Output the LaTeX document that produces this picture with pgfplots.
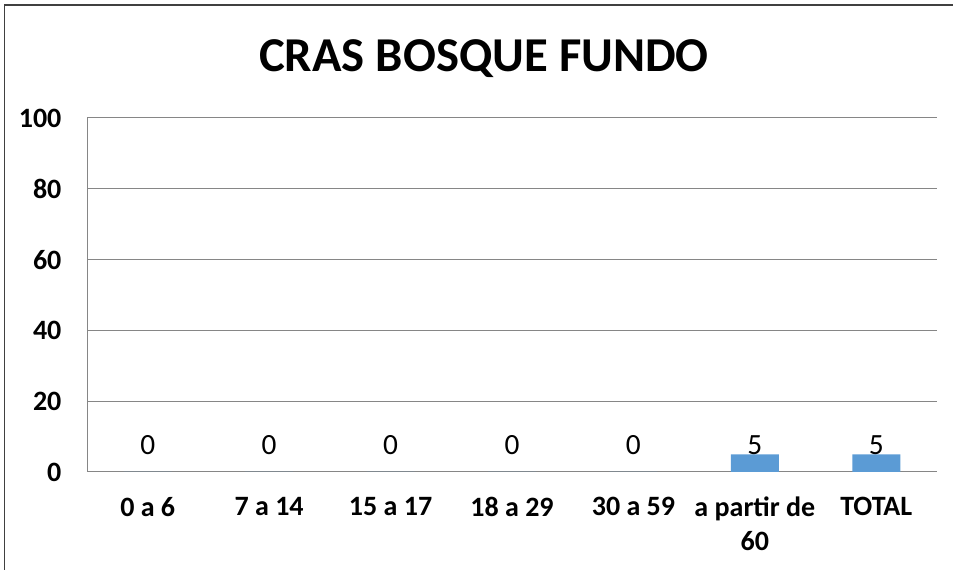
\documentclass[border=0pt]{standalone}
\usepackage{fontspec}
\setmainfont{Carlito}
\usepackage{pgfplots}
\pgfplotsset{compat=1.18}
\definecolor{barblue}{RGB}{91,155,213}
\definecolor{gridgray}{RGB}{134,134,134}
\begin{document}
\begin{tikzpicture}[x=0.75pt,y=0.75pt]
\useasboundingbox (0,0) rectangle (953,570);
\draw[black!75, line width=1pt] (4.5,-2) -- (4.5,565) -- (953,565);
\node[font=\bfseries\fontsize{36.5}{42}\selectfont, anchor=base] at (484,498) {CRAS BOSQUE FUNDO};
\begin{axis}[
  at={(65.25pt,73.5pt)}, anchor=south west,
  scale only axis, width=637.5pt, height=265.5pt,
  xmin=-0.5, xmax=6.5, ymin=0, ymax=100,
  ytick={0,20,...,100}, xtick={0,...,6},
  xticklabels={0 a 6, 7 a 14, 15 a 17, 18 a 29, 30 a 59, {a partir de\\60}, TOTAL},
  /pgf/number format/assume math mode=true,
  tick label style={font=\bfseries\fontsize{21}{25.5}\selectfont, inner sep=0pt},
  xticklabel style={align=center, anchor=north, yshift=-18.5pt},
  yticklabel style={anchor=east, xshift=-19pt},
  major tick length=0pt,
  axis x line*=bottom, axis y line*=left,
  axis line style={gridgray, line width=0.75pt, -},
  ymajorgrids, grid style={gridgray, line width=0.75pt},
  clip=false
]
\addplot[ybar, bar width=36pt, fill=barblue, draw=none]
  coordinates {(0,0) (1,0) (2,0) (3,0) (4,0) (5,5) (6,5)};
\addplot[draw=none, mark=none, nodes near coords, point meta=explicit symbolic,
  every node near coord/.append style={anchor=base, inner sep=0pt, font=\fontsize{22}{25}\selectfont}]
  coordinates {(0,5)[0] (1,5)[0] (2,5)[0] (3,5)[0] (4,5)[0] (5,5)[5] (6,5)[5]};
\end{axis}
\end{tikzpicture}
\end{document}
